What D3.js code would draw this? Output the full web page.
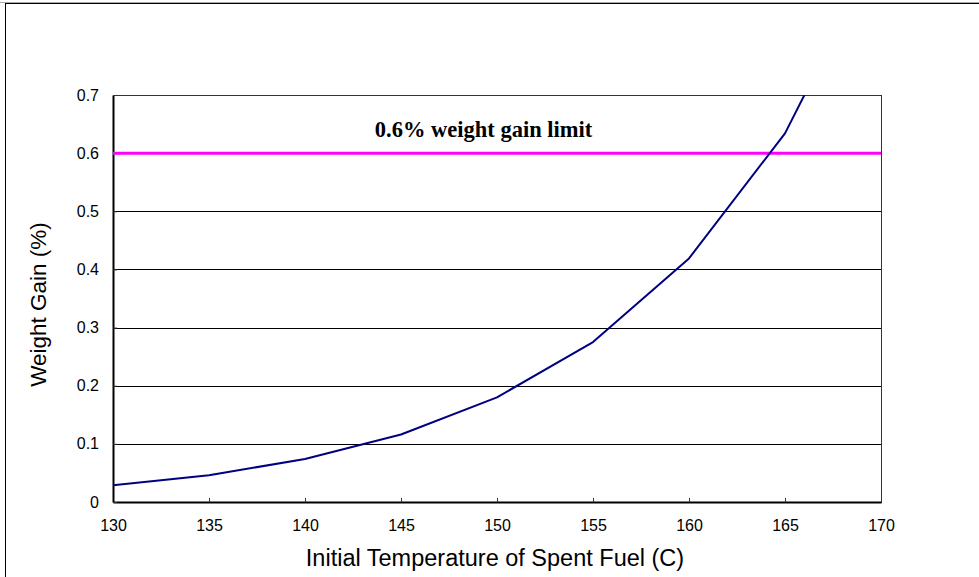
<!DOCTYPE html>
<html>
<head>
<meta charset="utf-8">
<script src="https://cdn.jsdelivr.net/npm/d3@7"></script>
<style>
  body { margin: 0; background: #fff; }
  svg { display: block; font-family: Arial, "Liberation Sans", sans-serif; }
</style>
</head>
<body>
<svg width="979" height="577"></svg>
<script>
// data
var temps = [130, 135, 140, 145, 150, 155, 160, 165, 170]
var gains = [0.029, 0.046, 0.074, 0.116, 0.18, 0.275, 0.419, 0.634, 0.96]
var limitValue = 0.6
var limitLabel = '0.6% weight gain limit'
var xTicks = [130, 135, 140, 145, 150, 155, 160, 165, 170]
var yTicks = [0, 0.1, 0.2, 0.3, 0.4, 0.5, 0.6, 0.7]

var svg = d3.select('svg'),
  margin = {top: 95, right: 98, bottom: 75, left: 113},
  width = +svg.attr('width') - margin.left - margin.right,
  height = +svg.attr('height') - margin.top - margin.bottom

var data = temps.map(function (t, i) { return {t: t, v: gains[i]} })

var x = d3.scaleLinear().domain([130, 170]).range([0, width]),
  y = d3.scaleLinear().domain([0, 0.7]).range([height, 0])

// outer chart border (runs off right / bottom)
svg.append('rect')
    .attr('x', 5.5).attr('y', 3.5)
    .attr('width', 1000).attr('height', 1000)
    .attr('fill', 'none')
    .attr('stroke', '#000')
svg.append('line')
    .attr('x1', 0).attr('x2', 979).attr('y1', 2.5).attr('y2', 2.5)
    .attr('stroke', '#aaa')

svg.append('defs').append('clipPath')
    .attr('id', 'clip')
  .append('rect')
    .attr('width', width)
    .attr('height', height)

var g = svg.append('g')
    .attr('transform', 'translate(' + margin.left + ',' + margin.top + ')')

// gridlines
g.append('g')
  .selectAll('line')
  .data(yTicks.slice(1))
  .enter().append('line')
    .attr('x1', 0).attr('x2', width)
    .attr('y1', function (d) { return Math.round(y(d)) + 0.5 })
    .attr('y2', function (d) { return Math.round(y(d)) + 0.5 })
    .attr('stroke', '#000')
    .attr('stroke-width', 1)

// frame
g.append('rect')
    .attr('x', 0.5).attr('y', 0.5)
    .attr('width', width).attr('height', height)
    .attr('fill', 'none')
    .attr('stroke', '#333')

var xAxis = d3.axisBottom(x).tickValues(xTicks).tickSize(-4).tickSizeOuter(0).tickPadding(18).tickFormat(d3.format('d'))
var yAxis = d3.axisLeft(y).tickValues(yTicks).tickSize(-4).tickSizeOuter(0).tickPadding(14).tickFormat(function (d) { return d === 0 ? '0' : d3.format('.1f')(d) })

g.append('g')
    .attr('class', 'axis axis--x')
    .attr('transform', 'translate(0,' + height + ')')
    .call(xAxis)

g.append('g')
    .attr('class', 'axis axis--y')
    .call(yAxis)

g.selectAll('.axis .domain').attr('stroke', '#000').attr('stroke-width', 2)
g.selectAll('.axis .tick line').attr('stroke', '#333')
g.selectAll('.axis text')
    .attr('font-size', 16)
    .attr('fill', '#000')
    .attr('font-family', 'Arial, "Liberation Sans", sans-serif')

// limit line
g.append('line')
    .attr('x1', 0).attr('x2', width)
    .attr('y1', y(limitValue)).attr('y2', y(limitValue))
    .attr('stroke', '#ff00ff')
    .attr('stroke-width', 3)

g.append('text')
    .attr('x', x(149.3))
    .attr('y', y(limitValue) - 16)
    .attr('text-anchor', 'middle')
    .attr('font-family', '"Liberation Serif", "Times New Roman", serif')
    .attr('font-weight', 'bold')
    .attr('font-size', 22.5)
    .text(limitLabel)

var line = d3.line()
    .x(function (d) { return x(d.t) })
    .y(function (d) { return y(d.v) })

g.append('path')
    .datum(data)
    .attr('clip-path', 'url(#clip)')
    .attr('fill', 'none')
    .attr('stroke', '#000080')
    .attr('stroke-width', 2)
    .attr('stroke-linejoin', 'round')
    .attr('d', line)

// axis titles
svg.append('text')
    .attr('x', 495)
    .attr('y', 566)
    .attr('text-anchor', 'middle')
    .attr('font-size', 23.5)
    .text('Initial Temperature of Spent Fuel (C)')

svg.append('text')
    .attr('transform', 'translate(46,' + (margin.top + height / 2 + 6) + ') rotate(-90)')
    .attr('text-anchor', 'middle')
    .attr('font-size', 22.5)
    .text('Weight Gain (%)')
</script>
</body>
</html>
